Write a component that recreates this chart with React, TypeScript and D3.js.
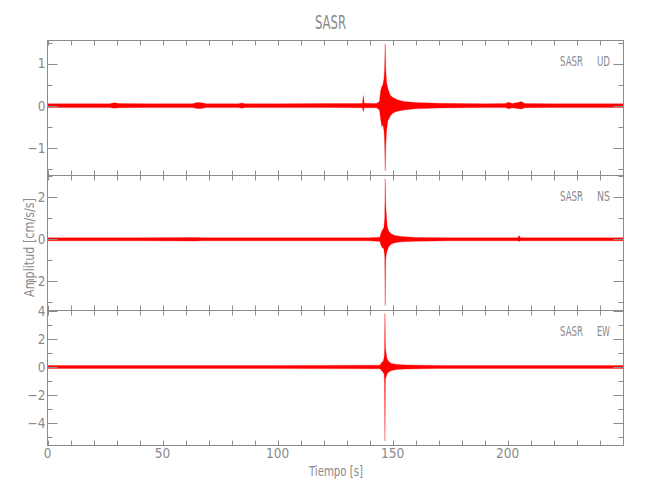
import { useEffect, useRef } from 'react'
import * as d3 from 'd3'

const TITLE = 'SASR'
const STATION = 'SASR'
const COMPONENTS = ['UD', 'NS', 'EW']
const X_LABEL = 'Tiempo [s]'
const Y_LABEL = 'Amplitud [cm/s/s]'
const X_DOMAIN: [number, number] = [0, 250.4]
const X_TICKS = [0, 50, 100, 150, 200]
const X_MINOR = [10, 20, 30, 40, 60, 70, 80, 90, 110, 120, 130, 140, 160, 170, 180, 190, 210, 220, 230, 240, 250]

const Y_DOMAINS: [number, number][] = [[-1.66, 1.55], [-3.39, 3.04], [-5.61, 4.04]]
const Y_MAJOR = [[-1, 0, 1], [-2, 0, 2], [-4, -2, 0, 2, 4]]
const Y_MINOR = [[-1.5, -0.5, 0.5, 1.5], [-3, -1, 1, 3], [-5, -3, -1, 1, 3]]

// envelope of each trace: [time s, max, min]
const UD_ENV: [number, number, number][] = [
  [0, 0.045, -0.045], [10, 0.045, -0.045], [27, 0.045, -0.045], [29, 0.07, -0.06], [31, 0.05, -0.05],
  [45, 0.045, -0.045], [63, 0.045, -0.045], [65, 0.075, -0.065], [67, 0.07, -0.065], [69, 0.045, -0.045],
  [83, 0.045, -0.045], [84.5, 0.065, -0.06], [86, 0.045, -0.045], [100, 0.045, -0.045], [120, 0.05, -0.045],
  [136.9, 0.05, -0.05], [137.3, 0.24, -0.14], [137.7, 0.06, -0.05], [143, 0.05, -0.05],
  [144.3, 0.1, -0.1], [144.8, 0.35, -0.3], [145.3, 0.45, -0.5], [145.8, 0.5, -0.45],
  [146.3, 0.65, -0.6], [146.55, 0.9, -0.85], [146.8, 1.47, -1.55], [147.05, 0.85, -0.95],
  [147.4, 0.55, -0.6], [148, 0.4, -0.35], [149, 0.25, -0.25], [150, 0.2, -0.18], [152, 0.14, -0.13],
  [155, 0.1, -0.1], [160, 0.075, -0.075], [170, 0.055, -0.055], [190, 0.045, -0.045], [199, 0.05, -0.045],
  [200.5, 0.08, -0.07], [202, 0.05, -0.05], [205, 0.08, -0.07], [206, 0.1, -0.08], [207.5, 0.05, -0.05],
  [220, 0.045, -0.045], [250.4, 0.045, -0.045],
]
const NS_ENV: [number, number, number][] = [
  [0, 0.07, -0.07], [40, 0.07, -0.07], [65, 0.09, -0.08], [67, 0.07, -0.07], [100, 0.07, -0.07],
  [140, 0.07, -0.07], [144.5, 0.1, -0.1], [145, 0.3, -0.3], [145.6, 0.45, -0.4], [146.2, 0.55, -0.45],
  [146.6, 1.0, -0.8], [146.8, 2.87, -3.16], [147.0, 1.7, -1.0], [147.3, 1.2, -0.7], [147.7, 0.6, -0.55],
  [148.3, 0.4, -0.35], [149.5, 0.25, -0.22], [151, 0.18, -0.16], [154, 0.13, -0.12], [160, 0.09, -0.09],
  [175, 0.07, -0.07], [204.4, 0.07, -0.07], [205, 0.18, -0.1], [205.6, 0.07, -0.07], [250.4, 0.07, -0.07],
]
const EW_ENV: [number, number, number][] = [
  [0, 0.11, -0.11], [100, 0.11, -0.11], [144.5, 0.13, -0.13], [145.2, 0.3, -0.25], [145.8, 0.4, -0.35],
  [146.3, 0.6, -0.5], [146.5, 1.0, -1.0], [146.7, 3.84, -5.29], [146.9, 1.4, -0.9], [147.2, 1.0, -0.7],
  [147.6, 0.6, -0.5], [148.3, 0.4, -0.35], [149.5, 0.25, -0.25], [152, 0.18, -0.17], [156, 0.14, -0.14],
  [170, 0.11, -0.11], [250.4, 0.11, -0.11],
]
const ENVELOPES = [UD_ENV, NS_ENV, EW_ENV]

const FONT = "'Liberation Sans Narrow', 'DejaVu Sans Condensed', sans-serif"
const AXIS = '#8c8c8c'
const TEXT = '#8a8a8a'

export default function App() {
  const ref = useRef<SVGSVGElement>(null)

  useEffect(() => {
    const svg = d3.select(ref.current)
    svg.selectAll('*').remove()

    const left = 47.5
    const right = 623.5
    const panelTops = [40.5, 175.5, 310.5]
    const panelH = 135

    const x = d3.scaleLinear().domain(X_DOMAIN).range([left, right])

    svg.append('text')
      .attr('x', 315).attr('y', 29)
      .attr('textLength', 31).attr('lengthAdjust', 'spacingAndGlyphs')
      .attr('font-size', 19).attr('font-family', FONT).attr('fill', TEXT)
      .text(TITLE)

    ENVELOPES.forEach((env, i) => {
      const top = panelTops[i]
      const bottom = top + panelH
      const y = d3.scaleLinear().domain(Y_DOMAINS[i]).range([bottom, top])
      const g = svg.append('g')

      const clipId = `clip-${i}`
      svg.append('clipPath').attr('id', clipId)
        .append('rect').attr('x', left).attr('y', top).attr('width', right - left).attr('height', panelH)

      const area = d3.area<[number, number, number]>()
        .x(d => x(d[0]))
        .y0(d => y(d[2]))
        .y1(d => y(d[1]))

      g.append('path')
        .datum(env)
        .attr('clip-path', `url(#${clipId})`)
        .attr('fill', '#ff0000')
        .attr('stroke', '#ff0000')
        .attr('stroke-width', 0.3)
        .attr('d', area)

      // frame
      g.append('rect')
        .attr('x', left).attr('y', top).attr('width', right - left).attr('height', panelH)
        .attr('fill', 'none').attr('stroke', AXIS)

      // x ticks on top and bottom edges
      const xt = [...X_TICKS, ...X_MINOR]
      xt.forEach(t => {
        const px = Math.round(x(t)) + 0.5
        g.append('line').attr('x1', px).attr('x2', px).attr('y1', top).attr('y2', top + 5).attr('stroke', AXIS)
        g.append('line').attr('x1', px).attr('x2', px).attr('y1', bottom).attr('y2', bottom - 5).attr('stroke', AXIS)
      })

      // y ticks on left and right edges
      const yTick = (v: number, len: number) => {
        const py = Math.round(y(v)) + 0.5
        g.append('line').attr('x1', left).attr('x2', left + len).attr('y1', py).attr('y2', py).attr('stroke', AXIS)
        g.append('line').attr('x1', right).attr('x2', right - len).attr('y1', py).attr('y2', py).attr('stroke', AXIS)
      }
      Y_MAJOR[i].forEach(v => yTick(v, 10))
      Y_MINOR[i].forEach(v => yTick(v, 5))

      g.selectAll('text.ytl')
        .data(Y_MAJOR[i])
        .enter().append('text')
        .attr('x', 45.5)
        .attr('y', v => y(v))
        .attr('dy', '0.36em')
        .attr('text-anchor', 'end')
        .attr('font-size', 13.5).attr('font-family', FONT).attr('fill', TEXT)
        .text(v => (v < 0 ? '\u2212' : '') + Math.abs(v))

      g.append('text')
        .attr('x', 560).attr('y', top + 25.5)
        .attr('textLength', 23).attr('lengthAdjust', 'spacingAndGlyphs')
        .attr('font-size', 14).attr('font-family', FONT).attr('fill', TEXT)
        .text(STATION)
      g.append('text')
        .attr('x', 597).attr('y', top + 25.5)
        .attr('textLength', 13).attr('lengthAdjust', 'spacingAndGlyphs')
        .attr('font-size', 14).attr('font-family', FONT).attr('fill', TEXT)
        .text(COMPONENTS[i])
    })

    svg.selectAll('text.xtl')
      .data(X_TICKS)
      .enter().append('text')
      .attr('x', t => x(t))
      .attr('y', 458)
      .attr('text-anchor', 'middle')
      .attr('font-size', 13.5).attr('font-family', FONT).attr('fill', TEXT)
      .text(t => String(t))

    svg.append('text')
      .attr('x', 309).attr('y', 476)
      .attr('textLength', 54).attr('lengthAdjust', 'spacingAndGlyphs')
      .attr('font-size', 14).attr('font-family', FONT).attr('fill', TEXT)
      .text(X_LABEL)

    svg.append('text')
      .attr('transform', 'translate(34,297) rotate(-90)')
      .attr('textLength', 99).attr('lengthAdjust', 'spacingAndGlyphs')
      .attr('font-size', 14).attr('font-family', FONT).attr('fill', TEXT)
      .text(Y_LABEL)
  }, [])

  return (
    <svg
      ref={ref}
      width={650}
      height={500}
      style={{ position: 'absolute', left: 0, top: 0, background: '#fff', display: 'block' }}
    />
  )
}
